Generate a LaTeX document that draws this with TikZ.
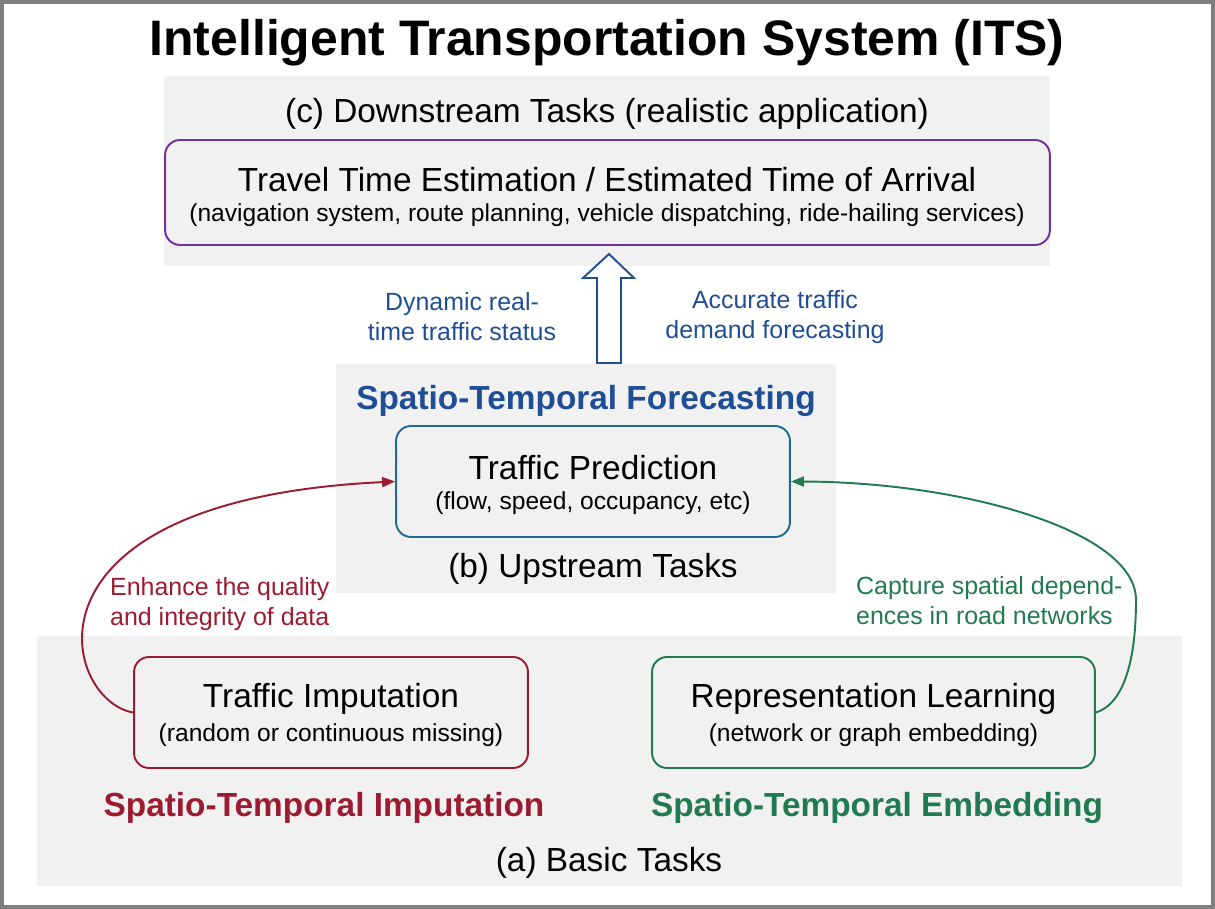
\documentclass[tikz,border=0pt]{standalone}
\usepackage{fontspec}
\setmainfont{Liberation Sans}
\usetikzlibrary{arrows.meta,positioning}

\definecolor{panelgray}{HTML}{F1F1F1}
\definecolor{framegray}{HTML}{7F7F7F}
\definecolor{downpurple}{HTML}{7030A0}
\definecolor{forecastblue}{HTML}{1F4E96}
\definecolor{predteal}{HTML}{1F6B94}
\definecolor{imputered}{HTML}{9B1B30}
\definecolor{embedgreen}{HTML}{217A50}

\tikzset{
  taskbox/.style={draw, rounded corners=.3cm, line width=1.1pt, inner sep=0pt},
  maintext/.style={font=\fontsize{19}{22}\selectfont},
  subtext/.style={font=\fontsize{14}{17}\selectfont},
  tiertext/.style={font=\fontsize{19}{22}\selectfont},
  kindtext/.style={font=\fontsize{19}{22}\selectfont\bfseries},
  linktext/.style={font=\fontsize{14.2}{17}\selectfont},
  feed/.style={line width=1.1pt, -{Triangle[length=.26cm, width=.2cm]}},
}

\begin{document}
\begin{tikzpicture}[x=.02cm, y=-.02cm]
\useasboundingbox (0, 0) rectangle (1215, 909);
\draw [framegray, line width=.08cm] (2, 2) rectangle (1213, 907);

\node (title) at (607, 43) [font=\fontsize{28.4}{32}\selectfont\bfseries] {Intelligent Transportation System (ITS)};

% (c) downstream
\fill [panelgray] (164, 76) rectangle (1050, 266);
\node (down) at (607, 114) [tiertext] {(c) Downstream Tasks (realistic application)};
\node (tte) at (607.5, 192.5) [taskbox, draw=downpurple, minimum width=17.7cm, minimum height=2.1cm] {};
\node (tte-main) at (607, 180) [maintext] {Travel Time Estimation / Estimated Time of Arrival};
\node (tte-sub) at (607, 215) [subtext] {(navigation system, route planning, vehicle dispatching, ride-hailing services)};

% (b) upstream
\fill [panelgray] (336, 364) rectangle (836, 593);
\node (fore) at (586, 401) [kindtext, forecastblue] {Spatio-Temporal Forecasting};
\node (pred) at (593, 481.5) [taskbox, draw=predteal, minimum width=7.88cm, minimum height=2.22cm] {};
\node (pred-main) at (593, 468) [maintext] {Traffic Prediction};
\node (pred-sub) at (593, 503) [subtext] {(flow, speed, occupancy, etc)};
\node (up) at (593, 569) [tiertext] {(b) Upstream Tasks};

% up arrow
\draw [forecastblue, line width=1.1pt, fill=white, line join=miter]
  (597, 363) -- (597, 278) -- (583, 278) -- (609, 254) -- (634, 278) -- (621, 278) -- (621, 363) -- cycle;
\node (dyn) at (462, 317) [linktext, forecastblue, align=center] {Dynamic real-\\time traffic status};
\node (acc) at (775, 317) [linktext, forecastblue, align=center] {Accurate traffic\\demand forecasting};

% (a) basic
\fill [panelgray] (37, 636) rectangle (1182, 886);
\node (imp) at (331, 712.5) [taskbox, draw=imputered, minimum width=7.88cm, minimum height=2.22cm] {};
\node (imp-main) at (331, 699) [maintext] {Traffic Imputation};
\node (imp-sub) at (331, 735) [subtext] {(random or continuous missing)};
\node (rep) at (873.5, 712.5) [taskbox, draw=embedgreen, minimum width=8.86cm, minimum height=2.22cm] {};
\node (rep-main) at (873.5, 699) [maintext] {Representation Learning};
\node (rep-sub) at (873.5, 735) [subtext] {(network or graph embedding)};
\node (impk) at (324, 808) [kindtext, imputered] {Spatio-Temporal Imputation};
\node (embk) at (877, 808) [kindtext, embedgreen] {Spatio-Temporal Embedding};
\node (basic) at (609, 863) [tiertext] {(a) Basic Tasks};

% feedback curves
\coordinate (bend) at (1136, 600);
\draw [feed, imputered] (imp.west) .. controls (62, 700) and (8, 500) .. (pred.west);
\draw [feed, embedgreen] (rep.east) .. controls (1120, 705) and (1136, 670) .. (bend)
  .. controls (1136, 530) and (960, 482) .. (pred.east);
\node (enh) at (104, 604) [linktext, imputered, anchor=west, align=left] {Enhance the quality\\and integrity of data};
\node (cap) at (850, 601) [linktext, embedgreen, anchor=west, align=left] {Capture spatial depend-\\ences in road networks};
\end{tikzpicture}
\end{document}
